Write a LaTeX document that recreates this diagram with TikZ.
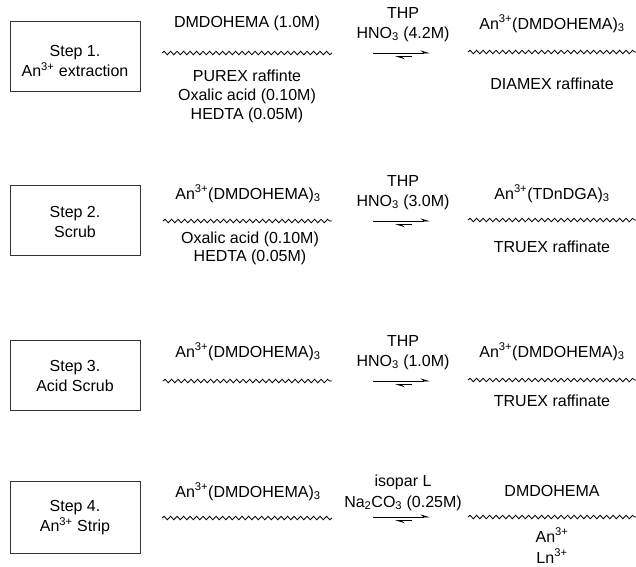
\documentclass[tikz,border=0pt]{standalone}
\usepackage{fontspec}
\setmainfont{Liberation Sans}
\usetikzlibrary{decorations.pathmorphing,arrows.meta}
\begin{document}
\begin{tikzpicture}[x=1pt,y=-1pt,
  lbl/.style={font=\fontsize{16}{20}\selectfont, inner sep=0pt, text height=11.5pt, text depth=3.4pt},
  boxtext/.style={font=\fontsize{16}{20}\selectfont, inner sep=0pt, align=center},
  stepbox/.style={draw=black!80, line width=0.9pt, minimum width=130pt, minimum height=70pt, inner sep=0pt},
  wave/.style={decorate, decoration={snake, segment length=6.5pt, amplitude=1.7pt}, line width=0.85pt},
  eqarrow/.style={-{Stealth[harpoon,length=8pt,width=5pt]}, line width=0.8pt},
]
\useasboundingbox (0,0) rectangle (636,566);

% ---------- Step boxes ----------
\node[stepbox] (b1) at (75,56) {};
\node[boxtext] (t1) at (75,61) {Step 1.\\An\textsuperscript{3+} extraction};
\node[stepbox] (b2) at (75,220.5) {};
\node[boxtext] (t2) at (75,221.5) {Step 2.\\Scrub};
\node[stepbox] (b3) at (75,375.5) {};
\node[boxtext] (t3) at (75,375.5) {Step 3.\\Acid Scrub};
\node[stepbox, minimum height=72pt] (b4) at (75,517) {};
\node[boxtext] (t4) at (75,517.5) {Step 4.\\An\textsuperscript{3+} Strip};

% ---------- Row 1 ----------
\node[lbl] (l1a) at (247,23) {DMDOHEMA (1.0M)};
\coordinate (w1a) at (162,53); \coordinate (w1b) at (332,53);
\draw[wave] (w1a) -- (w1b);
\node[lbl] (l1b) at (247,77) {PUREX raffinte};
\node[lbl] (l1c) at (247,96) {Oxalic acid (0.10M)};
\node[lbl] (l1d) at (247,115) {HEDTA (0.05M)};
\node[lbl] (m1a) at (403,14) {THP};
\node[lbl] (m1b) at (403,34) {HNO\textsubscript{3} (4.2M)};
\coordinate (a1s) at (373,53); \coordinate (a1e) at (430,53);
\coordinate (r1s) at (412,56.5); \coordinate (r1e) at (395,56.5);
\draw[eqarrow] (a1s) -- (a1e);
\draw[eqarrow] (r1s) -- (r1e);
\node[lbl] (r1a) at (552,25) {An\textsuperscript{3+}(DMDOHEMA)\textsubscript{3}};
\coordinate (v1a) at (468,52); \coordinate (v1b) at (636,52);
\draw[wave] (v1a) -- (v1b);
\node[lbl] (r1b) at (552,85) {DIAMEX raffinate};

% ---------- Row 2 ----------
\node[lbl] (l2a) at (248,195) {An\textsuperscript{3+}(DMDOHEMA)\textsubscript{3}};
\coordinate (w2a) at (163,221); \coordinate (w2b) at (332,221);
\draw[wave] (w2a) -- (w2b);
\node[lbl] (l2b) at (250,239) {Oxalic acid (0.10M)};
\node[lbl] (l2c) at (250,257) {HEDTA (0.05M)};
\node[lbl] (m2a) at (403,182) {THP};
\node[lbl] (m2b) at (403,202) {HNO\textsubscript{3} (3.0M)};
\coordinate (a2s) at (373,221); \coordinate (a2e) at (430,221);
\coordinate (r2s) at (412,224.5); \coordinate (r2e) at (395,224.5);
\draw[eqarrow] (a2s) -- (a2e);
\draw[eqarrow] (r2s) -- (r2e);
\node[lbl] (r2a) at (552,195) {An\textsuperscript{3+}(TDnDGA)\textsubscript{3}};
\coordinate (v2a) at (468,220); \coordinate (v2b) at (636,220);
\draw[wave] (v2a) -- (v2b);
\node[lbl] (r2b) at (552,248) {TRUEX raffinate};

% ---------- Row 3 ----------
\node[lbl] (l3a) at (248,353) {An\textsuperscript{3+}(DMDOHEMA)\textsubscript{3}};
\coordinate (w3a) at (163,381); \coordinate (w3b) at (332,381);
\draw[wave] (w3a) -- (w3b);
\node[lbl] (m3a) at (403,342) {THP};
\node[lbl] (m3b) at (403,362) {HNO\textsubscript{3} (1.0M)};
\coordinate (a3s) at (373,381); \coordinate (a3e) at (430,381);
\coordinate (r3s) at (412,384.5); \coordinate (r3e) at (395,384.5);
\draw[eqarrow] (a3s) -- (a3e);
\draw[eqarrow] (r3s) -- (r3e);
\node[lbl] (r3a) at (552,353) {An\textsuperscript{3+}(DMDOHEMA)\textsubscript{3}};
\coordinate (v3a) at (468,380); \coordinate (v3b) at (636,380);
\draw[wave] (v3a) -- (v3b);
\node[lbl] (r3b) at (552,402) {TRUEX raffinate};

% ---------- Row 4 ----------
\node[lbl] (l4a) at (248,493) {An\textsuperscript{3+}(DMDOHEMA)\textsubscript{3}};
\coordinate (w4a) at (162,518); \coordinate (w4b) at (332,518);
\draw[wave] (w4a) -- (w4b);
\node[lbl] (m4a) at (403,482) {isopar L};
\node[lbl] (m4b) at (403,503) {Na\textsubscript{2}CO\textsubscript{3} (0.25M)};
\coordinate (a4s) at (373,517); \coordinate (a4e) at (430,517);
\coordinate (r4s) at (412,520.5); \coordinate (r4e) at (395,520.5);
\draw[eqarrow] (a4s) -- (a4e);
\draw[eqarrow] (r4s) -- (r4e);
\node[lbl] (r4a) at (552,492) {DMDOHEMA};
\coordinate (v4a) at (468,517); \coordinate (v4b) at (636,517);
\draw[wave] (v4a) -- (v4b);
\node[lbl] (r4b) at (552,538) {An\textsuperscript{3+}};
\node[lbl] (r4c) at (552,559) {Ln\textsuperscript{3+}};
\end{tikzpicture}
\end{document}
